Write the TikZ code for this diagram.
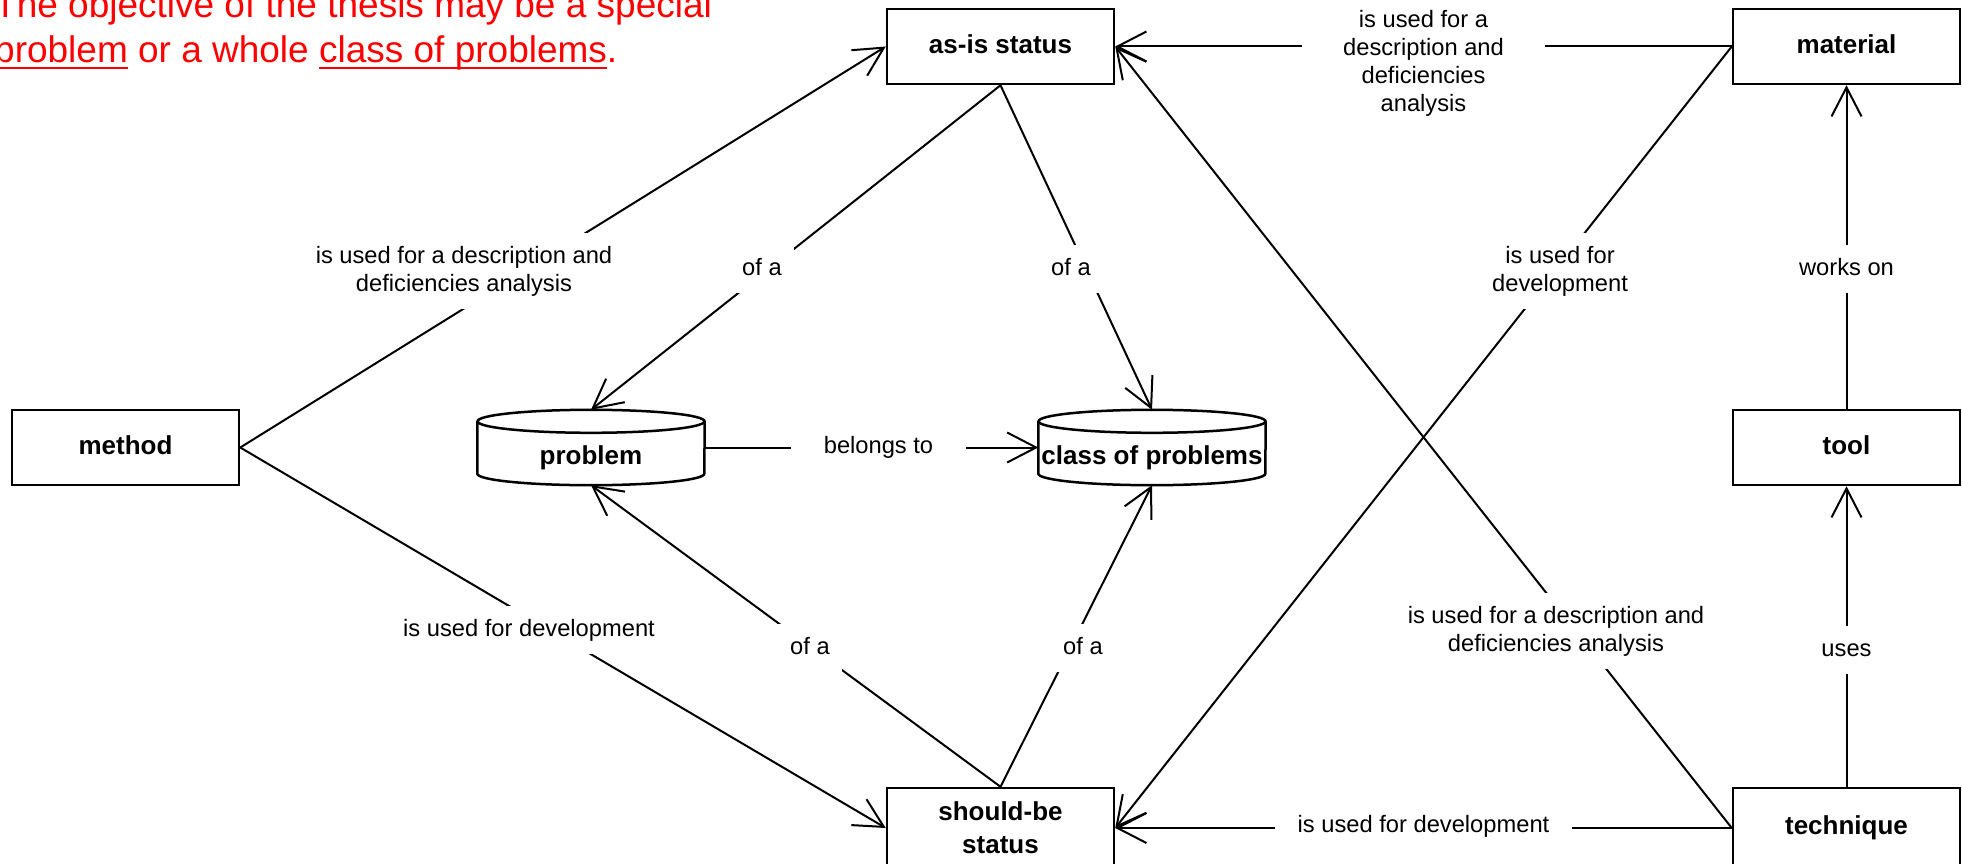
\documentclass[tikz,border=0pt]{standalone}
\usepackage{fontspec}
\setmainfont{Liberation Sans}
\usetikzlibrary{arrows.meta,calc}
\newcommand\myul[1]{\setbox0=\hbox{#1}\rlap{\rule[-6.5pt]{\wd0}{2.6pt}}#1}
\begin{document}
\begin{tikzpicture}[x=1pt,y=-1pt,
  box/.style={draw, line width=2.5pt, minimum width=227pt, minimum height=75pt, inner sep=0pt, align=center, font=\fontsize{26}{33}\selectfont\bfseries},
  boxone/.style={box, text height=18.7pt, text depth=5.5pt},
  cylnode/.style={minimum width=227pt, minimum height=75pt, inner sep=0pt, font=\fontsize{26}{31}\selectfont\bfseries},
  cylline/.style={line width=2.5pt},
  conn/.style={line width=2pt, -{Straight Barb[length=29pt,width=30pt]}},
  lbl/.style={fill=white, inner xsep=12pt, inner ysep=13pt, align=center, font=\fontsize{23.7}{28}\selectfont},
  lblone/.style={lbl, text height=17pt, text depth=5pt},
]
\useasboundingbox (0,0) rectangle (1962,864);

% red note
\node[anchor=base west, inner sep=0pt, text=red, font=\fontsize{37}{45}\selectfont, align=left] (note) at (-6,63)
  {The objective of the thesis may be a special\\\myul{problem} or a whole \myul{class of problems}.};

% nodes
\node[boxone] (asis) at (1000.5,46.5) {as-is status};
\node[boxone] (material) at (1846.5,46.5) {material};
\node[boxone] (method) at (125.5,447.5) {method};
\node[boxone] (tool) at (1846.5,447.5) {tool};
\node[box, minimum height=80pt] (should) at (1000.5,828) {should-be\\status};
\node[boxone, minimum height=80pt] (technique) at (1846.5,828) {technique};

\node[cylnode] (problem) at (591,447.5) {\raisebox{-16.5pt}[0pt][0pt]{problem}};
\node[cylnode] (class) at (1152,447.5) {\raisebox{-16.5pt}[0pt][0pt]{class of problems}};

% cylinders
\foreach \c in {problem,class}{
  \draw[cylline] ($(\c.north)+(0,11.5)$) ellipse [x radius=113.5, y radius=11.5];
  \draw[cylline] ($(\c.north west)+(0,11.5)$) -- ($(\c.south west)+(0,-11.5)$)
     arc[start angle=180, end angle=0, x radius=113.5, y radius=11.5]
     -- ($(\c.north east)+(0,11.5)$);
}

% connectors
\draw[conn] (method.east) -- (asis.west);
\draw[conn] (method.east) -- (should.west);
\draw[conn] (asis.south) -- (problem.north);
\draw[conn] (asis.south) -- (class.north);
\draw[conn] (should.north) -- (problem.south);
\draw[conn] (should.north) -- (class.south);
\draw[conn] (problem.east) -- (class.west);
\draw[conn] (material.west) -- (asis.east);
\draw[conn] (material.west) -- (should.east);
\draw[conn] (technique.west) -- (asis.east);
\draw[conn] (technique.west) -- (should.east);
\draw[conn] (tool.north) -- (material.south);
\draw[conn] (technique.north) -- (tool.south);

% labels
\node[lbl] (l1) at (464,271) {is used for a description and\\deficiencies analysis};
\node[lblone] (l2) at (762,269) {of a};
\node[lblone] (l3) at (1071,269) {of a};
\node[lblone] (l4) at (810,648) {of a};
\node[lblone] (l5) at (1083,648) {of a};
\node[lblone, minimum width=175pt] (l6) at (878.5,447.5) {belongs to};
\node[lblone] (l7) at (529,630) {is used for development};
\node[lbl, minimum width=243pt] (l8) at (1423.5,63) {is used for a\\description and\\deficiencies\\analysis};
\node[lbl] (l9) at (1560,271) {is used for\\development};
\node[lbl] (l10) at (1556,631) {is used for a description and\\deficiencies analysis};
\node[lblone] (l11) at (1846.5,269) {works on};
\node[lblone] (l12) at (1846.5,650) {uses};
\node[lblone, minimum width=297pt] (l13) at (1423.5,826) {is used for development};
\end{tikzpicture}
\end{document}
